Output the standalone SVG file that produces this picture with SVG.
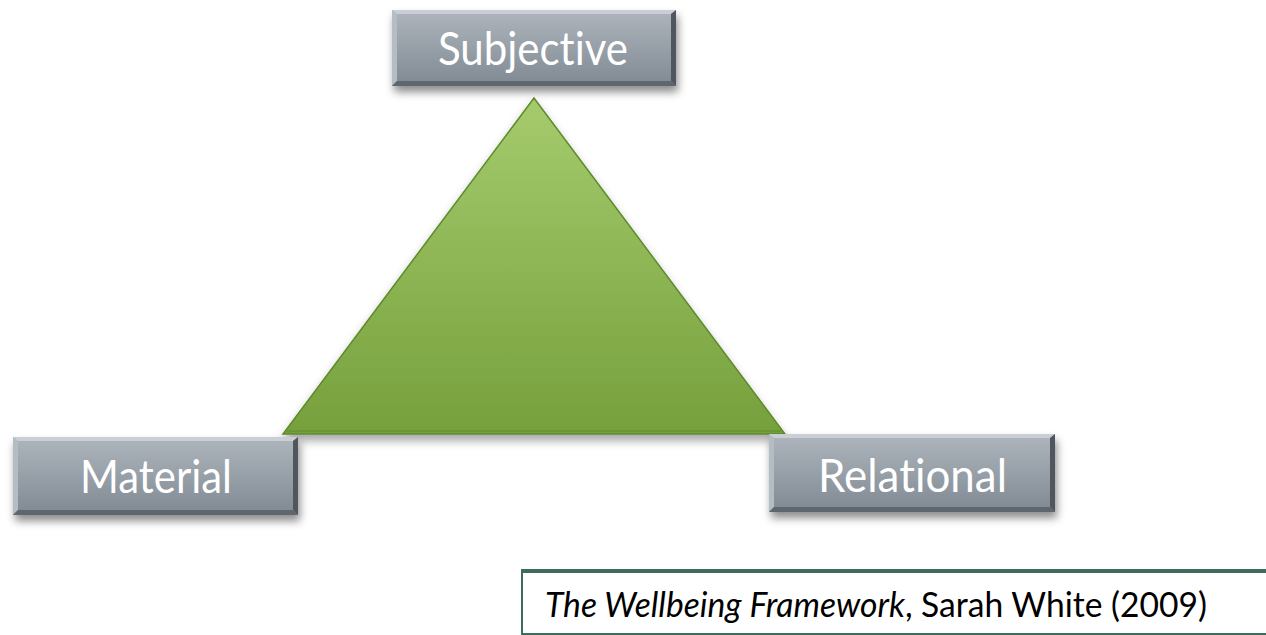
<svg xmlns="http://www.w3.org/2000/svg" width="1266" height="635" viewBox="0 0 1266 635">
  <style>
    text { font-variant-ligatures: none; }
    .label { font-family: Lato, "Liberation Sans", sans-serif; font-size: 46px; fill: #ffffff; }
    .cite { font-family: Lato, "Liberation Sans", sans-serif; font-size: 34px; fill: #000000; }
    .bevel-top { fill: #c9cfd5; }
    .bevel-left { fill: #b4bcc4; }
    .bevel-right { fill: #4f565e; }
    .bevel-bottom { fill: #5f666e; }
  </style>
  <defs>
    <linearGradient id="boxFill" x1="0" y1="0" x2="0" y2="1">
      <stop offset="0" stop-color="#aeb5bd"/>
      <stop offset="1" stop-color="#808992"/>
    </linearGradient>
    <linearGradient id="triFill" x1="0" y1="0" x2="0" y2="1">
      <stop offset="0" stop-color="#a5cb6d"/>
      <stop offset="1" stop-color="#76a03c"/>
    </linearGradient>
    <filter id="shadow" x="-10%" y="-10%" width="125%" height="140%">
      <feDropShadow dx="2" dy="6" stdDeviation="4" flood-color="#000" flood-opacity="0.45"/>
    </filter>
    <filter id="triShadow" x="-10%" y="-10%" width="120%" height="130%">
      <feDropShadow dx="0" dy="6" stdDeviation="5" flood-color="#000" flood-opacity="0.35"/>
    </filter>
  </defs>

  <!-- central triangle -->
  <g id="triangle">
    <polygon points="534,98 283,434 785,434" fill="url(#triFill)" stroke="#5e8a2c" stroke-width="1.5" stroke-linejoin="miter" filter="url(#triShadow)"/>
    <polyline points="287,431 781,431" fill="none" stroke="#6a9636" stroke-width="2"/>
  </g>

  <g id="connectors"></g>

  <!-- Subjective -->
  <g id="node-subjective">
    <rect x="392" y="10" width="284" height="76" fill="url(#boxFill)" filter="url(#shadow)"/>
    <polygon class="bevel-top" points="392,10 676,10 671,14 397,14"/>
    <polygon class="bevel-left" points="392,10 397,14 397,81 392,86"/>
    <polygon class="bevel-right" points="676,10 676,86 671,81 671,14"/>
    <polygon class="bevel-bottom" points="392,86 676,86 671,81 397,81"/>
    <text class="label" x="438" y="65" textLength="190" lengthAdjust="spacingAndGlyphs">Subjective</text>
  </g>

  <!-- Material -->
  <g id="node-material">
    <rect x="13" y="437" width="285" height="78" fill="url(#boxFill)" filter="url(#shadow)"/>
    <polygon class="bevel-top" points="13,437 298,437 293,441 18,441"/>
    <polygon class="bevel-left" points="13,437 18,441 18,510 13,515"/>
    <polygon class="bevel-right" points="298,437 298,515 293,510 293,441"/>
    <polygon class="bevel-bottom" points="13,515 298,515 293,510 18,510"/>
    <text class="label" x="80" y="493" textLength="152" lengthAdjust="spacingAndGlyphs">Material</text>
  </g>

  <!-- Relational -->
  <g id="node-relational">
    <rect x="769" y="434" width="286" height="78" fill="url(#boxFill)" filter="url(#shadow)"/>
    <polygon class="bevel-top" points="769,434 1055,434 1050,438 774,438"/>
    <polygon class="bevel-left" points="769,434 774,438 774,507 769,512"/>
    <polygon class="bevel-right" points="1055,434 1055,512 1050,507 1050,438"/>
    <polygon class="bevel-bottom" points="769,512 1055,512 1050,507 774,507"/>
    <text class="label" x="818" y="492" textLength="189" lengthAdjust="spacingAndGlyphs">Relational</text>
  </g>

  <!-- citation box: heavy top rule, lighter sides -->
  <g id="citation">
    <rect x="522" y="571" width="800" height="63" fill="#ffffff" stroke="#3e6b5b" stroke-width="2"/>
    <line x1="521" y1="571" x2="1266" y2="571" stroke="#3e6b5b" stroke-width="4"/>
    <text class="cite" x="545" y="617" textLength="662" lengthAdjust="spacingAndGlyphs"><tspan font-style="italic">The Wellbeing Framework</tspan>, Sarah White (2009)</text>
  </g>
</svg>
